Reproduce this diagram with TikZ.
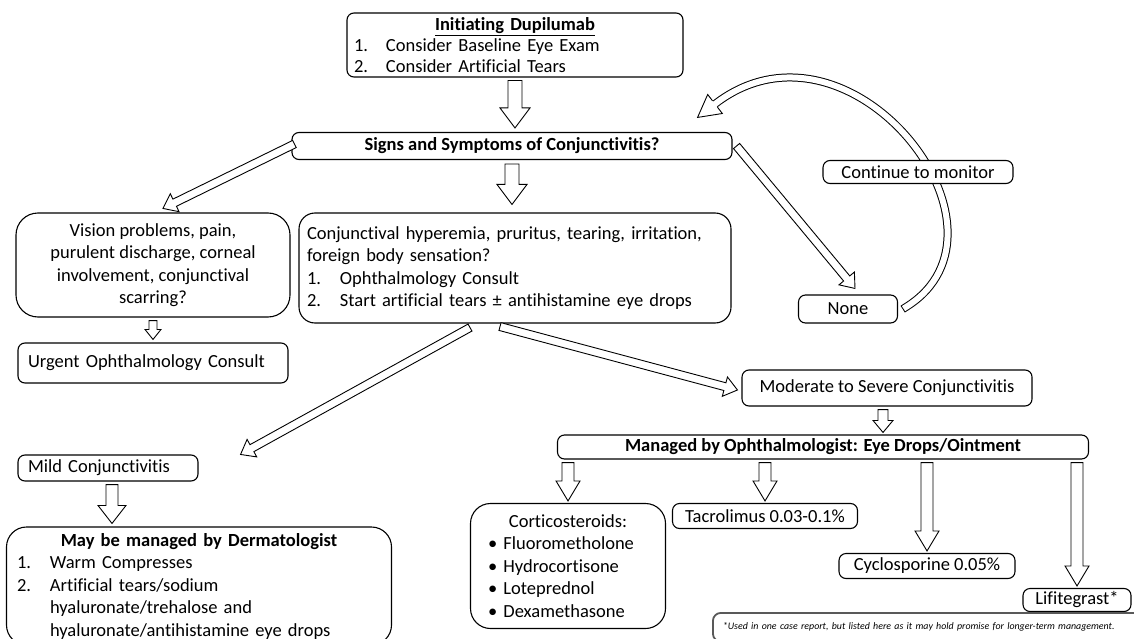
\documentclass[tikz,border=0pt]{standalone}
\usepackage{fontspec}
\setmainfont{Carlito}[Ligatures=NoCommon]
\usetikzlibrary{calc}

% hollow block arrow: shaft half-width, head half-width, head length, from, to
\newcommand{\blockarrow}[5]{%
  \path (#4) coordinate (ba-from) (#5) coordinate (ba-to);%
  \pgfpointdiff{\pgfpointanchor{ba-from}{center}}{\pgfpointanchor{ba-to}{center}}%
  \pgfgetlastxy{\bax}{\bay}%
  \pgfmathsetmacro{\baangle}{atan2(\bay,\bax)}%
  \pgfmathsetmacro{\balength}{veclen(\bax,\bay)}%
  \begin{scope}[shift={(ba-from)}, rotate=\baangle, x=1pt, y=1pt]
    \draw[arrowbody] (0,-#1) -- (\balength-#3,-#1) -- (\balength-#3,-#2) -- (\balength,0)
      -- (\balength-#3,#2) -- (\balength-#3,#1) -- (0,#1) -- cycle;
  \end{scope}%
}

\begin{document}
\begin{tikzpicture}[x=1pt,y=-1pt,line width=1.1pt]
\tikzstyle{box}=[draw, rounded corners=7pt, fill=white, inner sep=0pt, font=\fontsize{18.5}{22.5}\selectfont]
\tikzstyle{bigbox}=[box, rounded corners=22pt]
\tikzstyle{arrowbody}=[draw=black, fill=white, line width=0.9pt]
\tikzstyle{curvebody}=[double=white, double distance=6pt, line width=1pt, line cap=rect]
\useasboundingbox (0,0) rectangle (1134,639);

% top of the chart
\node[box, minimum width=336pt, minimum height=64pt, text width=322pt, align=left, font=\fontsize{18.5}{21}\selectfont] (init) at (515,45)
  {\makebox[\linewidth][c]{\textbf{\underline{Initiating Dupilumab}}}\\
   \makebox[32pt][l]{1.}Consider Baseline Eye Exam\\
   \makebox[32pt][l]{2.}Consider Artificial Tears};
\node[box, minimum width=440pt, minimum height=27pt] (signs) at (512,146) {\textbf{Signs and Symptoms of Conjunctivitis?}};

% left branch
\node[bigbox, minimum width=274pt, minimum height=104pt, align=center] (vision) at (153,265)
  {Vision problems, pain,\\ purulent discharge, corneal\\ involvement, conjunctival\\ scarring?};
\node[box, minimum width=270pt, minimum height=40pt, text width=250pt, align=left] (urgent) at (153,363) {Urgent Ophthalmology Consult};

% middle branch
\node[bigbox, rounded corners=16pt, minimum width=432pt, minimum height=110pt, text width=416pt, align=left] (conj) at (515,268)
  {Conjunctival hyperemia, pruritus, tearing, irritation,\\ foreign body sensation?\\
   \makebox[33pt][l]{1.}Ophthalmology Consult\\
   \makebox[33pt][l]{2.}Start artificial tears ± antihistamine eye drops};

% right branch and the loop back
\node[box, minimum width=99pt, minimum height=28pt] (none) at (848,309) {None};
\coordinate (ctail) at ($(none.east)+(8,-2)$);
\coordinate (cctrl) at (850,0);
\coordinate (cend) at (715,104);
\draw[curvebody] (ctail) .. controls (1030,230) and (cctrl) .. (cend);
\filldraw[arrowbody] ($(cend)!4pt!90:(cctrl)$) -- ($(cend)!12pt!90:(cctrl)$) -- ($(cend)!-22pt!(cctrl)$)
  -- ($(cend)!12pt!-90:(cctrl)$) -- ($(cend)!4pt!-90:(cctrl)$);
\node[box, minimum width=190pt, minimum height=23pt] (cont) at (918,172) {Continue to monitor};

% severity
\node[box, minimum width=180pt, minimum height=26pt, text width=160pt, align=left] (mild) at (108,468) {Mild Conjunctivitis};
\node[bigbox, rounded corners=20pt, minimum width=385pt, minimum height=118pt, text width=364pt, align=left] (derm) at (199,586)
  {\makebox[\linewidth][c]{\textbf{May be managed by Dermatologist}}\\
   \makebox[33pt][l]{1.}Warm Compresses\\
   \makebox[33pt][l]{2.}Artificial tears/sodium\\
   \hspace*{33pt}hyaluronate/trehalose and\\
   \hspace*{33pt}hyaluronate/antihistamine eye drops};
\node[box, minimum width=290pt, minimum height=36pt] (mod) at (887,388) {Moderate to Severe Conjunctivitis};
\node[box, minimum width=531pt, minimum height=24pt] (managed) at (823,447) {\textbf{Managed by Ophthalmologist: Eye Drops/Ointment}};

% drops
\node[bigbox, rounded corners=20pt, minimum width=195pt, minimum height=125pt, text width=160pt, align=left] (cort) at (568,566)
  {\makebox[\linewidth][c]{Corticosteroids:}\\ • Fluorometholone\\ • Hydrocortisone\\ • Loteprednol\\ • Dexamethasone};
\node[box, minimum width=185pt, minimum height=25pt] (tac) at (765,516) {Tacrolimus 0.03-0.1\%};
\node[box, minimum width=176pt, minimum height=25pt] (cyc) at (927,566) {Cyclosporine 0.05\%};
\node[box, minimum width=108pt, minimum height=23pt] (lif) at (1077,600) {Lifitegrast*};

\node[draw=black!65, line width=1.8pt, rounded corners=8pt, anchor=north west, inner xsep=10pt, inner ysep=10pt, text width=430pt, align=left,
  font=\fontsize{9.9}{12}\selectfont\itshape] (note) at (712,612)
  {*Used in one case report, but listed here as it may hold promise for longer-term management.};

% block arrows
\blockarrow{7}{15}{20}{$(init.south)+(0,3)$}{$(init.south |- signs.north)+(0,-4)$}
\blockarrow{4}{10}{13}{$(signs.west)+(3,-2)$}{$(vision.north)+(10,-4)$}
\blockarrow{7}{15}{20}{$(signs.south)+(0,4)$}{$(signs.south |- conj.north)+(0,-8)$}
\blockarrow{4}{10}{13}{$(signs.east)+(4,0)$}{$(none.north)+(7,-6)$}
\blockarrow{4}{8}{10}{$(vision.south)+(0,3)$}{$(urgent.north)+(0,-3)$}
\blockarrow{4}{10}{13}{$(conj.south)+(-45,4)$}{$(mild.north east)+(42,0)$}
\blockarrow{4}{10}{13}{$(conj.south)+(-15,3)$}{$(mod.west)+(-4,2)$}
\blockarrow{5}{10}{12}{$(mod.south)+(-4,3)$}{$(mod.south |- managed.north)+(-4,-2)$}
\blockarrow{6}{14}{18}{$(mild.south)+(4,3)$}{$(mild.south |- derm.north)+(4,-3)$}
\blockarrow{6}{12}{20}{$(cort.north |- managed.south)+(0,3)$}{$(cort.north)+(0,-2)$}
\blockarrow{6}{12}{20}{$(tac.north |- managed.south)+(0,3)$}{$(tac.north)+(0,-2)$}
\blockarrow{6}{12}{20}{$(cyc.north |- managed.south)+(0,3)$}{$(cyc.north)+(0,-2)$}
\blockarrow{6}{12}{20}{$(lif.north |- managed.south)+(0,3)$}{$(lif.north)+(0,-2)$}
\end{tikzpicture}
\end{document}
